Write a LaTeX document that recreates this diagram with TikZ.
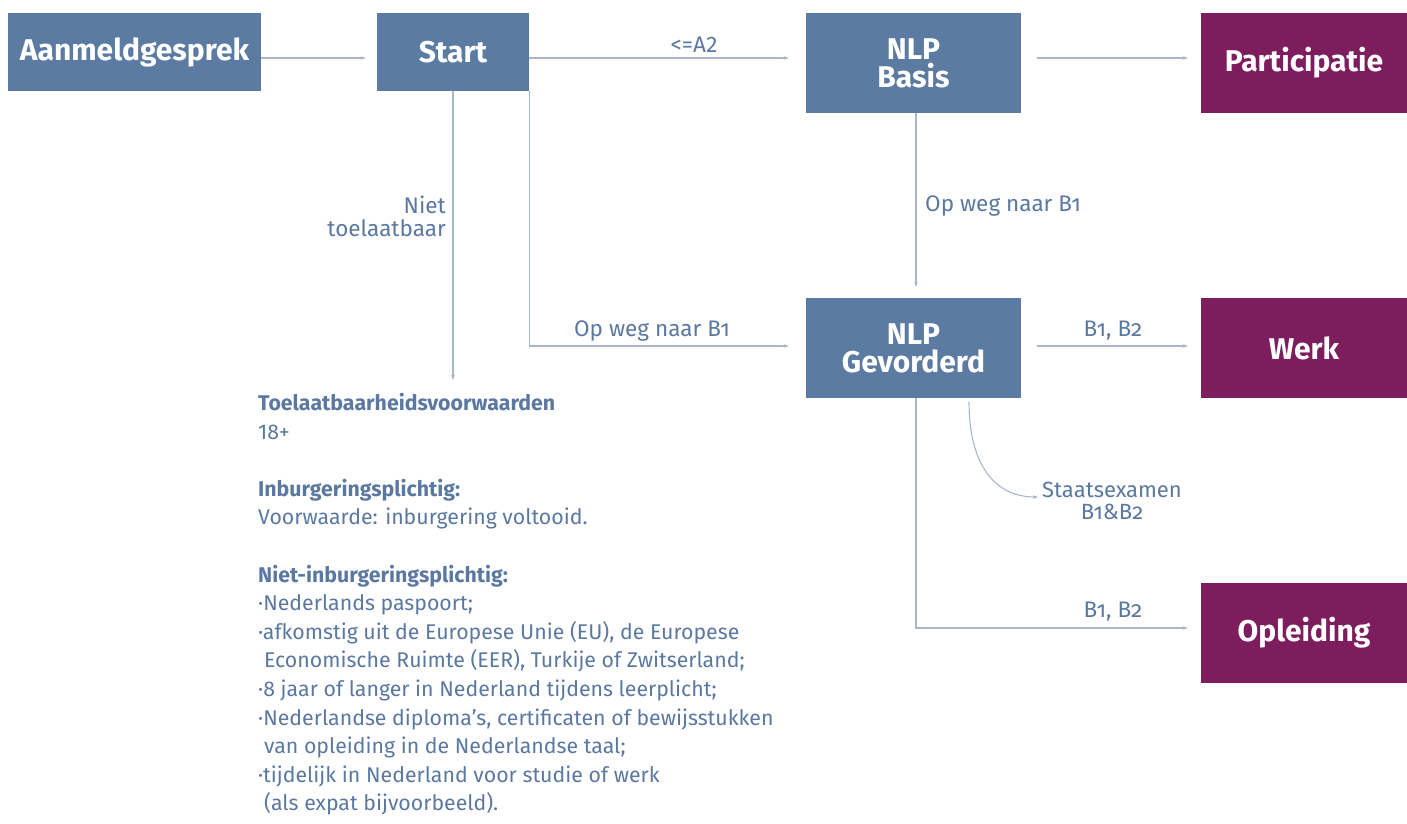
\documentclass[tikz,border=0pt]{standalone}
\usepackage{fontspec}
\setmainfont{Fira Sans}
\newfontfamily\oldnum[Numbers=OldStyle]{Fira Sans}
\usetikzlibrary{arrows.meta}

\definecolor{nlpblue}{RGB}{91,123,163}
\definecolor{nlppurple}{RGB}{125,29,94}
\definecolor{nlpline}{RGB}{170,182,202}
\definecolor{nlptext}{RGB}{90,120,160}

\tikzset{
  blockB/.style={fill=nlpblue, text=white, inner sep=0pt, align=center,
    font=\bfseries\fontsize{30}{28}\selectfont},
  blockP/.style={blockB, fill=nlppurple},
  conn/.style={draw=nlpline, line width=1.1pt, -{Stealth[length=5pt,width=3.5pt]}},
  lbl/.style={text=nlptext, font=\fontsize{22.5}{23}\selectfont, inner sep=0pt, align=center}
}

\begin{document}
\begin{tikzpicture}[x=1pt,y=-1pt]

\useasboundingbox (0,0) rectangle (1407,823);

\node[blockB, minimum width=253pt, minimum height=78pt] (aanm) at (134.5,52) {Aanmeldgesprek};
\node[blockB, minimum width=152pt, minimum height=78pt] (start) at (453,52) {Start};
\node[blockB, minimum width=215pt, minimum height=100pt] (basis) at (913.5,63) {NLP\\Basis};
\node[blockB, minimum width=215pt, minimum height=100pt] (gev) at (913.5,348) {NLP\\Gevorderd};
\node[blockP, minimum width=206pt, minimum height=100pt] (part) at (1304,63) {Participatie};
\node[blockP, minimum width=206pt, minimum height=100pt] (werk) at (1304,348) {Werk};
\node[blockP, minimum width=206pt, minimum height=100pt] (opl) at (1304,633) {Opleiding};

\coordinate (tv) at (453,380);
\coordinate (sx) at (1038,497);

\draw[conn] ([yshift=-6pt]aanm.east) -- ([xshift=-11pt,yshift=-6pt]start.west);
\draw[conn] ([yshift=-6pt]start.east) -- ([xshift=-17pt,yshift=5pt]basis.west);
\draw[conn] ([xshift=16pt,yshift=5pt]basis.east) -- ([xshift=-13pt,yshift=5pt]part.west);
\draw[conn] (start.south) -- (tv);
\draw[conn] (start.south east) |- ([xshift=-17pt,yshift=2pt]gev.west);
\draw[conn] ([xshift=2.5pt]basis.south) -- ([xshift=2.5pt,yshift=11pt]gev.north);
\draw[conn] ([xshift=16pt,yshift=2pt]gev.east) -- ([xshift=-13pt,yshift=2pt]werk.west);
\draw[conn] ([xshift=2.5pt]gev.south) |- ([xshift=-13pt,yshift=5pt]opl.west);
\draw[conn] ([xshift=55.5pt,yshift=-4pt]gev.south) .. controls (969,465) and (995,497) .. (sx);

\node[lbl] (la2) at (694,45) {<=A2};
\node[lbl, anchor=east, align=right] (lniet) at (446,216) {Niet\\toelaatbaar};
\node[lbl] (lweg1) at (652,331) {\oldnum Op weg naar B1};
\node[lbl, anchor=west] (lweg2) at (925,206) {\oldnum Op weg naar B1};
\node[lbl] (lwerk) at (1113,331) {\oldnum B1, B2};
\node[lbl] (lopl) at (1113,612) {\oldnum B1, B2};
\node[lbl, font=\oldnum\fontsize{22}{22}\selectfont] (lstaat) at (1112,501) {Staatsexamen\\B1\&B2};

\node[text=nlptext, anchor=north west, inner sep=0pt, align=left,
  font=\fontsize{21.3}{28.6}\selectfont] (voorw) at (258,393) {%
  \textbf{Toelaatbaarheidsvoorwaarden}\\
  18+\\[28.6pt]
  \textbf{Inburgeringsplichtig:}\\
  Voorwaarde: inburgering voltooid.\\[28.6pt]
  \textbf{Niet-inburgeringsplichtig:}\\
  ·Nederlands paspoort;\\
  ·afkomstig uit de Europese Unie (EU), de Europese\\
  \hspace{6pt}Economische Ruimte (EER), Turkije of Zwitserland;\\
  ·8 jaar of langer in Nederland tijdens leerplicht;\\
  ·Nederlandse diploma’s, certificaten of bewijsstukken\\
  \hspace{6pt}van opleiding in de Nederlandse taal;\\
  ·tijdelijk in Nederland voor studie of werk\\
  \hspace{6pt}(als expat bijvoorbeeld).};

\end{tikzpicture}
\end{document}
